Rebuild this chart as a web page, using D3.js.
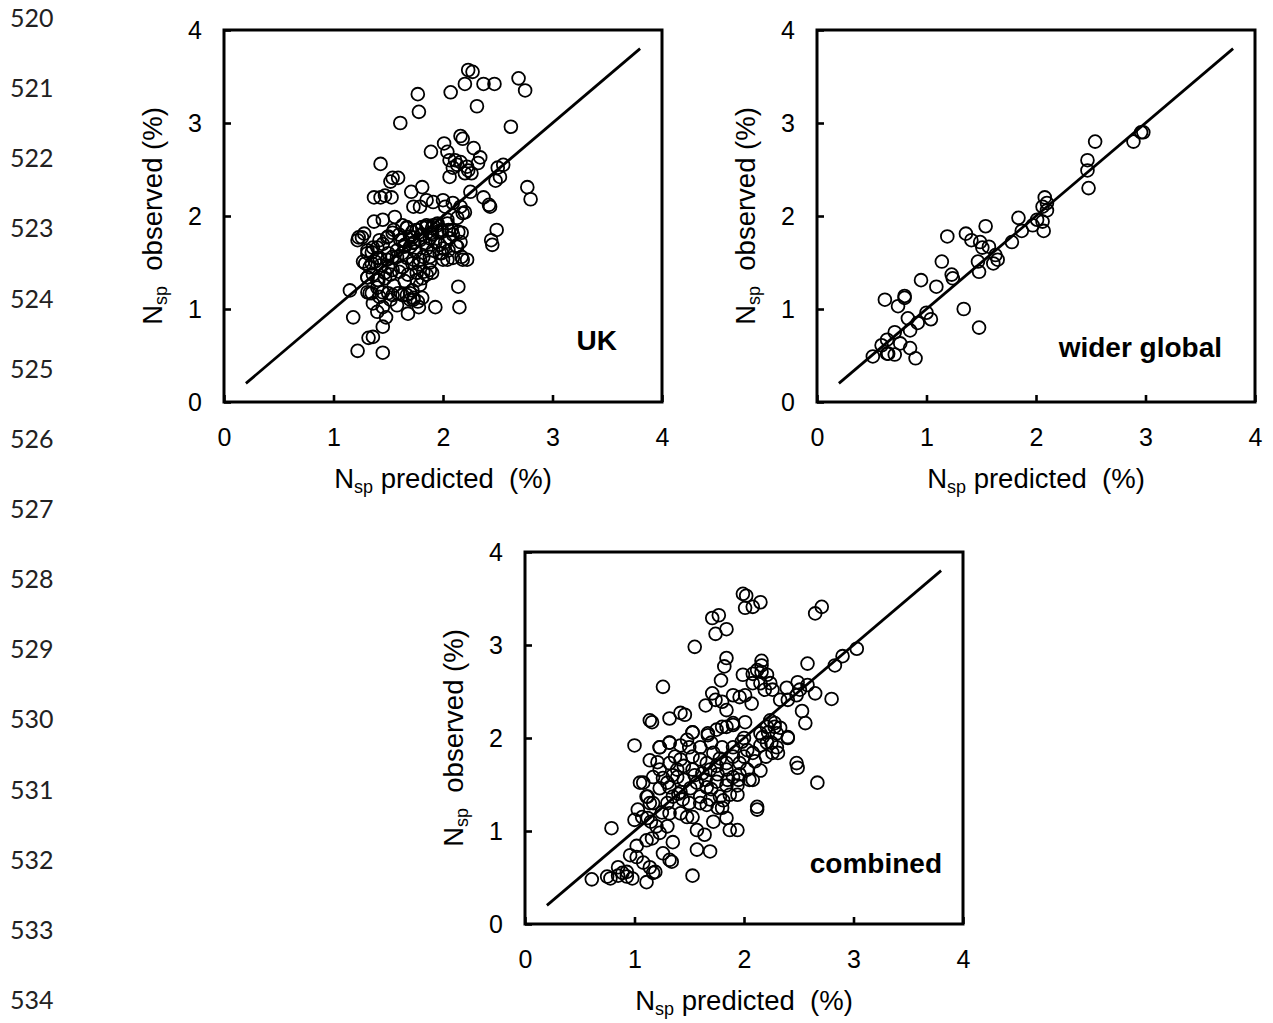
<!DOCTYPE html>
<html><head><meta charset="utf-8">
<script src="https://cdn.jsdelivr.net/npm/d3@7"></script>
<style>
body{margin:0;background:#fff;}
svg text{white-space:pre;}
</style></head>
<body>
<svg id="c" width="1273" height="1023"></svg>
<script>
// ---------- DATA ----------
const lineNumbers = [520,521,522,523,524,525,526,527,528,529,530,531,532,533,534];
const tickValues = [0,1,2,3,4];
const panelNames = ["UK","wider global","combined"];
const fitLine = [[0.2,0.2],[3.8,3.8]];

const ukPoints = [
[2.23,3.57],[2.27,3.55],[2.69,3.48],[2.75,3.35],[2.20,3.42],[2.37,3.42],[2.47,3.42],[2.07,3.33],[1.77,3.31],[1.78,3.12],[1.61,3.00],[2.31,3.18],[2.62,2.96],
[1.43,2.56],[1.89,2.69],[2.01,2.78],[2.04,2.69],[2.06,2.60],[2.09,2.52],[2.16,2.58],[2.22,2.53],[2.26,2.46],[2.20,2.46],[2.06,2.42],
[2.16,2.86],[2.18,2.83],[2.28,2.73],[2.34,2.63],[2.32,2.57],[2.11,2.60],[2.23,2.49],[2.13,2.55],
[2.50,2.52],[2.55,2.55],[2.52,2.42],[2.48,2.38],[2.77,2.31],[2.80,2.18],[2.37,2.20],[2.42,2.12],[2.43,2.10],[2.25,2.26],[2.49,1.85],[2.44,1.74],[2.45,1.69],
[1.52,2.37],[1.54,2.41],[1.59,2.41],[1.37,2.20],[1.43,2.20],[1.47,2.22],[1.53,2.20],[1.71,2.26],[1.81,2.31],
[1.73,2.10],[1.79,2.10],[1.85,2.17],[1.91,2.15],[2.00,2.17],[2.02,2.10],[2.09,2.14],[2.16,2.10],[2.18,2.03],[2.20,2.04],
[1.37,1.94],[1.45,1.96],[1.56,1.99],[1.22,1.74],[1.26,1.77],[1.31,1.60],[1.35,1.61],[1.40,1.66],
[1.29,1.49],[1.33,1.45],[1.38,1.51],[1.43,1.47],[1.49,1.53],[1.54,1.56],
[1.31,1.34],[1.36,1.37],[1.41,1.31],[1.47,1.33],[1.52,1.37],
[1.31,1.18],[1.35,1.17],[1.40,1.23],[1.45,1.18],[1.50,1.17],[1.54,1.15],[1.59,1.17],[1.67,1.15],[1.73,1.12],
[1.63,1.90],[1.67,1.87],[1.72,1.83],[1.76,1.85],[1.81,1.88],[1.85,1.90],[1.90,1.87],[1.95,1.83],[1.99,1.85],[1.91,1.90],[2.04,1.92],
[1.61,1.74],[1.65,1.69],[1.70,1.67],[1.74,1.72],[1.79,1.74],[1.84,1.71],[1.88,1.76],[1.93,1.72],[1.97,1.69],[2.02,1.72],[2.06,1.76],[2.09,1.80],[2.14,1.83],[2.16,1.72],
[1.58,1.56],[1.63,1.60],[1.67,1.55],[1.73,1.53],[1.82,1.56],[1.91,1.63],[1.99,1.60],[2.04,1.53],[2.09,1.55],[2.17,1.56],[2.22,1.53],
[1.63,1.45],[1.68,1.37],[1.76,1.39],[1.81,1.33],[1.85,1.37],[1.90,1.39],[1.79,1.26],
[1.70,1.17],[1.73,1.10],[1.77,1.08],
[1.15,1.20],[1.18,0.91],[1.45,0.81],[1.32,0.69],[1.36,0.70],[1.22,0.55],[1.45,0.53],
[1.40,0.97],[1.48,0.91],[1.68,0.95],[1.78,1.02],[1.81,1.12],[2.14,1.24],[2.15,1.02],[1.93,1.02],
[1.60,1.80],[1.70,1.78],[1.80,1.80],[1.90,1.80],[1.75,1.62],[1.85,1.65],[1.95,1.90],[2.05,1.85],[1.55,1.85],[1.50,1.78],
[1.45,1.70],[1.40,1.55],[1.65,1.30],[1.55,1.25],[1.60,1.40],[1.50,1.45],[2.00,1.65],[2.12,1.68],[1.88,1.50],[1.78,1.48],
[1.23,1.77],[1.28,1.81],[1.31,1.63],[1.36,1.66],[1.42,1.74],[1.49,1.77],[1.54,1.82],
[1.27,1.51],[1.35,1.49],[1.42,1.55],[1.50,1.60],[1.58,1.63],[1.65,1.67],[1.73,1.71],
[1.31,1.34],[1.40,1.31],[1.47,1.39],[1.54,1.42],[1.63,1.45],[1.72,1.49],[1.79,1.53],[1.88,1.56],[1.97,1.60],[2.05,1.63],[2.13,1.67],
[1.33,1.17],[1.42,1.13],[1.52,1.10],[1.63,1.15],[1.72,1.20],[1.82,1.40],[1.88,1.42],[1.76,1.31],[2.00,1.53],[2.18,1.53],
[1.67,1.88],[1.76,1.85],[1.85,1.88],[1.95,1.92],[2.04,1.96],[2.13,1.98],
[1.63,1.74],[1.72,1.77],[1.81,1.80],[1.90,1.82],[1.99,1.83],[2.08,1.85],[2.17,1.82],
[1.36,1.06],[1.45,1.02],[1.58,1.04],[1.70,1.10]
];

const globalPoints = [
[2.98,2.90],[2.96,2.90],[2.89,2.80],[2.54,2.80],[2.47,2.60],[2.47,2.49],[2.48,2.30],
[2.08,2.20],[2.10,2.14],[2.10,2.06],[2.06,2.10],[2.06,1.94],[2.07,1.84],[2.01,1.96],
[1.84,1.98],[1.87,1.84],[1.78,1.72],[1.97,1.90],[1.54,1.89],[1.19,1.78],
[1.36,1.81],[1.41,1.74],[1.49,1.72],[1.51,1.66],[1.57,1.67],
[1.63,1.58],[1.65,1.53],[1.61,1.49],[1.47,1.51],[1.48,1.40],[1.14,1.51],
[1.23,1.37],[1.24,1.33],[0.95,1.31],[1.09,1.24],
[0.62,1.10],[0.80,1.14],[0.80,1.12],[0.74,1.03],[1.34,1.00],[1.48,0.80],
[1.00,0.96],[1.04,0.89],[0.83,0.90],[0.92,0.85],[0.85,0.77],
[0.71,0.75],[0.64,0.67],[0.59,0.61],[0.76,0.63],
[0.51,0.49],[0.64,0.52],[0.65,0.52],[0.71,0.51],[0.85,0.58],[0.90,0.47]
];

const combinedPoints = [
[1.99,3.55],[2.02,3.53],[2.01,3.40],[2.08,3.41],[2.15,3.46],[2.65,3.34],[2.71,3.41],
[1.71,3.29],[1.77,3.32],[1.74,3.12],[1.84,3.17],[1.55,2.98],[1.84,2.86],[1.82,2.77],[1.79,2.62],[2.16,2.83],[2.16,2.78],
[1.99,2.68],[2.08,2.69],[2.12,2.73],[2.16,2.71],[2.21,2.68],[2.08,2.59],[2.15,2.59],[2.24,2.59],[2.19,2.52],[2.26,2.52],
[2.39,2.54],[2.33,2.41],[2.40,2.41],[2.49,2.60],[2.51,2.52],[2.58,2.57],[2.65,2.48],[2.48,2.46],
[2.58,2.80],[2.83,2.78],[2.90,2.88],[3.03,2.96],[2.80,2.42],[2.53,2.29],[2.56,2.16],[2.40,2.00],
[1.26,2.55],[1.14,2.19],[1.16,2.17],[1.32,2.21],[1.42,2.27],[1.46,2.25],[1.00,1.92],[1.23,1.90],[1.32,1.95],
[1.71,2.48],[1.74,2.41],[1.80,2.39],[1.84,2.30],[1.65,2.35],[1.90,2.46],[1.96,2.44],[2.01,2.46],[2.07,2.37],
[1.67,2.05],[1.53,2.06],[1.80,2.12],[1.90,2.16],[2.01,2.17],
[2.24,2.19],[2.28,2.12],[2.30,2.05],[2.22,2.06],[2.17,2.01],[2.33,2.11],
[2.40,2.01],[2.48,1.73],[2.49,1.68],[2.67,1.52],[2.12,1.26],[2.12,1.23],
[0.79,1.03],[1.53,0.52],
[0.61,0.48],[0.75,0.51],[0.78,0.49],[0.85,0.52],[0.89,0.55],[0.93,0.51],[0.98,0.49],[1.11,0.45],[1.17,0.55],[0.85,0.61],[0.93,0.56],
[0.96,0.74],[1.02,0.72],[1.08,0.66],[1.14,0.61],[1.19,0.56],[1.26,0.76],[1.32,0.69],[1.34,0.67],[1.57,0.80],[1.69,0.78],
[1.02,0.84],[1.11,0.90],[1.16,0.92],[1.23,0.98],[1.35,0.88],
[1.00,1.12],[1.07,1.15],[1.12,1.14],[1.03,1.23],
[1.57,1.01],[1.64,0.96],[1.72,1.10],[1.84,1.14],[1.87,1.01],[1.94,1.01],
[1.66,1.28],[1.76,1.25],[1.81,1.33],[1.94,1.39],
[1.08,1.52],[1.12,1.37],[1.17,1.30],[1.23,1.46],[1.30,1.52],[1.35,1.37],[1.32,1.19],[1.42,1.19],[1.48,1.15],[1.53,1.15],[1.60,1.30],[1.44,1.34],[1.51,1.46],[1.39,1.58],[1.17,1.58],
[1.14,1.76],[1.21,1.74],[1.23,1.90],[1.32,1.95],[1.37,1.80],[1.42,1.92],[1.48,1.98],[1.53,2.06],[1.67,2.03],[1.75,2.09],[1.84,2.12],[1.90,2.14],
[1.98,1.96],[2.03,1.87],[2.08,1.84],[2.15,1.92],[2.21,1.95],[2.26,1.84],[2.31,1.84],[2.21,2.12],[2.28,2.16],[2.15,2.05],
[1.53,1.80],[1.60,1.77],[1.66,1.73],[1.72,1.84],[1.78,1.78],[1.84,1.73],[1.90,1.80],[1.96,1.73],
[1.53,1.66],[1.62,1.62],[1.69,1.66],[1.76,1.61],[1.84,1.66],[1.90,1.58],[1.96,1.61],[2.03,1.66],[2.08,1.55],
[1.57,1.52],[1.66,1.47],[1.75,1.53],[1.84,1.49],[1.94,1.49],[1.60,1.37],[1.69,1.34],[1.78,1.37],[1.87,1.39],
[1.32,1.73],[1.39,1.66],[1.42,1.77],[1.23,1.66],[1.26,1.57],[1.32,1.47],[1.42,1.42],[1.11,1.37],[1.14,1.30],[1.05,1.52],
[1.35,1.60],[1.45,1.55],[1.55,1.60],[1.65,1.55],[1.75,1.70],[1.85,1.55],[1.95,1.55],[2.00,1.80],[2.10,1.75],[2.20,1.80],
[2.25,1.95],[1.45,1.70],[1.50,1.90],[1.60,1.90],[1.70,1.95],[1.80,1.90],[1.90,1.90],[2.00,2.00],[1.30,1.30],[1.40,1.40],
[1.50,1.30],[1.25,1.20],[1.15,1.10],[1.20,1.05],[1.30,1.05],[2.05,1.55],[2.15,1.65],[2.30,1.90],[1.70,1.45],[1.80,1.25]
];

// ---------- DRAW ----------
const svg = d3.select("#c");
const W = 438, H = 372;
const panels = [
  {name: panelNames[0], data: ukPoints, ox: 224, oy: 30, lx: 617, ly: 350},
  {name: panelNames[1], data: globalPoints, ox: 817, oy: 30, lx: 1222, ly: 357},
  {name: panelNames[2], data: combinedPoints, ox: 525, oy: 552, lx: 942, ly: 873}
];

// line numbers
const ln = d3.scaleLinear().domain([520,534]).range([18,1000]);
svg.append("g").selectAll("text").data(lineNumbers).join("text")
  .attr("x", 10).attr("y", d => ln(d)).attr("dy","0.36em")
  .attr("font-family","'Lato', 'Open Sans', sans-serif").attr("font-size", 25).attr("fill","#222")
  .text(d => d);

const fontAxis = "'Liberation Sans', Arial, sans-serif";

panels.forEach(p => {
  const x = d3.scaleLinear().domain([0,4]).range([0,W]);
  const y = d3.scaleLinear().domain([0,4]).range([H,0]);
  const g = svg.append("g").attr("transform", `translate(${p.ox},${p.oy})`);

  // fit line
  g.append("line")
    .attr("x1", x(fitLine[0][0])).attr("y1", y(fitLine[0][1]))
    .attr("x2", x(fitLine[1][0])).attr("y2", y(fitLine[1][1]))
    .attr("stroke","#000").attr("stroke-width",2.8);

  // points
  g.append("g").selectAll("circle").data(p.data).join("circle")
    .attr("cx", d => x(d[0])).attr("cy", d => y(d[1])).attr("r", 6.4)
    .attr("fill","none").attr("stroke","#000").attr("stroke-width",1.8);

  // axes
  const xa = g.append("g").attr("transform", `translate(0,${H})`)
    .call(d3.axisBottom(x).tickValues(tickValues).tickFormat(d3.format("d")).tickSize(-7).tickPadding(26));
  const ya = g.append("g")
    .call(d3.axisLeft(y).tickValues(tickValues).tickFormat(d3.format("d")).tickSize(-7).tickPadding(22));
  [xa, ya].forEach(a => {
    a.select(".domain").remove();
    a.selectAll(".tick line").attr("stroke","#000").attr("stroke-width",2.6);
    a.selectAll(".tick text").attr("font-family", fontAxis).attr("font-size", 25).attr("fill","#000");
  });
  xa.selectAll(".tick text").attr("dy","0.71em");

  // frame
  g.append("rect").attr("x",0).attr("y",0).attr("width",W).attr("height",H)
    .attr("fill","none").attr("stroke","#000").attr("stroke-width",3);

  // x label
  const xl = g.append("text").attr("x", W/2).attr("y", H + 86).attr("text-anchor","middle")
    .attr("font-family", fontAxis).attr("font-size", 27.5).attr("fill","#000");
  xl.append("tspan").text("N");
  xl.append("tspan").attr("font-size", 18).attr("dy", 5).text("sp");
  xl.append("tspan").attr("dy", -5).text(" predicted  (%)");

  // y label
  const yl = g.append("text").attr("transform", `translate(-62,${H/2}) rotate(-90)`).attr("text-anchor","middle")
    .attr("font-family", fontAxis).attr("font-size", 27.5).attr("fill","#000");
  yl.append("tspan").text("N");
  yl.append("tspan").attr("font-size", 18).attr("dy", 5).text("sp");
  yl.append("tspan").attr("dy", -5).text("  observed (%)");

  // panel label
  svg.append("text").attr("x", p.lx).attr("y", p.ly).attr("text-anchor","end")
    .attr("font-family", fontAxis).attr("font-weight","bold").attr("font-size", 28).attr("fill","#000")
    .text(p.name);
});
</script>
</body></html>
